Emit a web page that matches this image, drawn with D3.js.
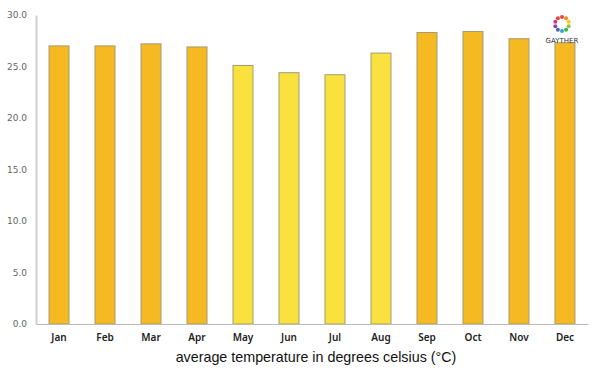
<!DOCTYPE html>
<html lang="en">
  <head>
    <meta charset="UTF-8" />
    <title>Average temperature</title>
    <script src="https://d3js.org/d3.v7.min.js"></script>
    <style>
      body { margin: 0; background: #fff; }
    </style>
  </head>
  <body>
    <svg width="600" height="375" id="chart"></svg>

    <script>
      // data
      const months = ["Jan", "Feb", "Mar", "Apr", "May", "Jun", "Jul", "Aug", "Sep", "Oct", "Nov", "Dec"];
      const temps = [27.0, 27.0, 27.2, 26.9, 25.1, 24.4, 24.2, 26.3, 28.3, 28.4, 27.7, 27.3];
      const yTicks = [0, 5, 10, 15, 20, 25, 30];
      const wetMonths = ["May", "Jun", "Jul", "Aug"];

      const svg = d3.select("#chart");
      const margin = { top: 15, right: 12, bottom: 51, left: 36 };
      const width = +svg.attr("width") - margin.left - margin.right;
      const height = +svg.attr("height") - margin.top - margin.bottom;
      const g = svg.append("g")
        .attr("transform", "translate(" + margin.left + "," + margin.top + ")");

      const x = d3.scaleBand()
        .domain(months)
        .range([0, width])
        .paddingInner(0.565)
        .paddingOuter(0.283);
      const y = d3.scaleLinear().domain([0, 30]).range([height, 0]);

      // bars
      g.selectAll("rect.bar")
        .data(months)
        .join("rect")
        .attr("class", "bar")
        .attr("x", (d) => x(d))
        .attr("width", x.bandwidth())
        .attr("y", (d, i) => y(temps[i]))
        .attr("height", (d, i) => y(0) - y(temps[i]))
        .attr("fill", (d) => wetMonths.includes(d) ? "#f9e23e" : "#f5b921")
        .attr("stroke", "#a59a7a")
        .attr("stroke-width", 1);

      // y axis
      const yAxis = g.append("g")
        .call(d3.axisLeft(y).tickValues(yTicks).tickFormat(d3.format(".1f")).tickSize(0).tickPadding(9));
      yAxis.select(".domain").attr("stroke", "#cfcfcf").attr("stroke-width", 2);
      yAxis.selectAll("text")
        .attr("fill", "#666")
        .style("font-family", "'DejaVu Sans', sans-serif")
        .style("font-size", "9px");

      // x axis
      const xAxis = g.append("g")
        .attr("transform", "translate(0," + height + ")")
        .call(d3.axisBottom(x).tickSize(0).tickPadding(10));
      xAxis.select(".domain").attr("stroke", "#bbb").attr("stroke-width", 1.2);
      xAxis.selectAll("text")
        .attr("fill", "#222")
        .style("font-family", "'Noto Sans', sans-serif")
        .style("font-size", "10px")
        .style("font-weight", "600");

      // axis title
      svg.append("text")
        .attr("x", margin.left + width / 2 + 4)
        .attr("y", 362)
        .attr("text-anchor", "middle")
        .attr("fill", "#111")
        .style("font-family", "'Liberation Sans', Arial, sans-serif")
        .style("font-size", "14.3px")
        .text("average temperature in degrees celsius (°C)");

      // logo
      const logoColors = ["#e8453c", "#f08a24", "#f5c518", "#8cc63f", "#3bb44a", "#2aa9c9", "#3c6fc1", "#8e44ad", "#d63384", "#e8453c"];
      const logo = svg.append("g").attr("transform", "translate(562,24)");
      logo.selectAll("circle")
        .data(logoColors)
        .join("circle")
        .attr("cx", (d, i) => 7 * Math.cos((i / logoColors.length) * 2 * Math.PI - Math.PI / 2))
        .attr("cy", (d, i) => 7 * Math.sin((i / logoColors.length) * 2 * Math.PI - Math.PI / 2))
        .attr("r", 2)
        .attr("fill", (d) => d);
      logo.append("text")
        .attr("y", 19)
        .attr("text-anchor", "middle")
        .attr("fill", "#333")
        .style("font-family", "'DejaVu Sans', sans-serif")
        .style("font-size", "7px")
        .text("GAYTHER");
    </script>
  </body>
</html>
